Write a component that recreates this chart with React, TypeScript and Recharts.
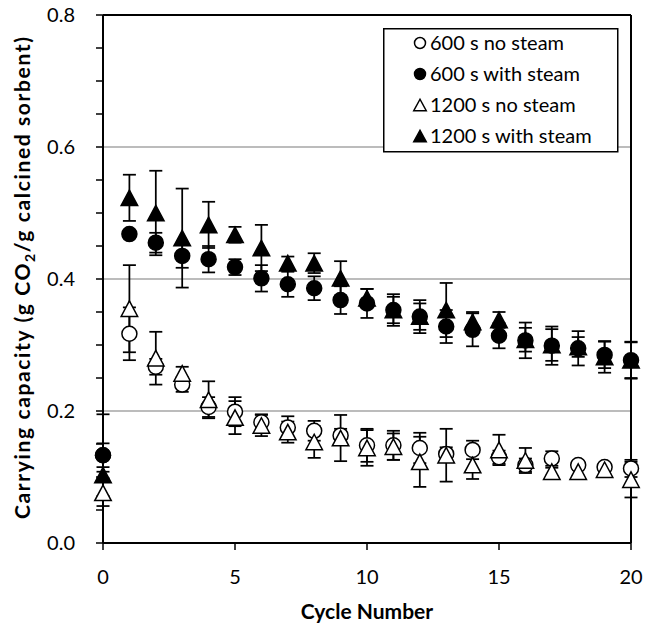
import React from "react";
import {
  ScatterChart,
  Scatter,
  XAxis,
  YAxis,
  ErrorBar,
  ReferenceLine,
  Legend,
  Label,
} from "recharts";

const cycles = [0, 1, 2, 3, 4, 5, 6, 7, 8, 9, 10, 11, 12, 13, 14, 15, 16, 17, 18, 19, 20];

// 600 s, no steam (open circles)
const noSteam600 = [0.133, 0.317, 0.267, 0.24, 0.206, 0.199, 0.183, 0.175, 0.17, 0.163, 0.148, 0.148, 0.144, 0.135, 0.141, 0.13, 0.118, 0.128, 0.118, 0.115, 0.113];
const noSteam600Err = [0.062, 0.04, 0.012, 0.011, 0.015, 0.022, 0.012, 0.017, 0.015, 0.01, 0.025, 0.022, 0.023, 0.01, 0.014, 0.01, 0.01, 0.011, 0.006, 0.006, 0.013];

// 600 s, with steam (filled circles)
const steam600 = [0.133, 0.468, 0.455, 0.435, 0.43, 0.418, 0.401, 0.392, 0.386, 0.368, 0.363, 0.353, 0.343, 0.328, 0.323, 0.314, 0.307, 0.299, 0.295, 0.285, 0.277];
const steam600Err = [0.018, 0.006, 0.015, 0.018, 0.02, 0.012, 0.02, 0.019, 0.018, 0.021, 0.022, 0.024, 0.025, 0.025, 0.025, 0.019, 0.027, 0.029, 0.026, 0.02, 0.027];

// 1200 s, no steam (open triangles)
const noSteam1200 = [0.076, 0.355, 0.28, 0.257, 0.217, 0.19, 0.178, 0.168, 0.153, 0.159, 0.144, 0.146, 0.123, 0.133, 0.118, 0.141, 0.125, 0.108, 0.108, 0.111, 0.096];
const noSteam1200Err = [0.02, 0.066, 0.04, 0.01, 0.028, 0.025, 0.016, 0.016, 0.024, 0.035, 0.027, 0.02, 0.038, 0.04, 0.021, 0.023, 0.019, 0.006, 0.006, 0.006, 0.027];

// 1200 s, with steam (filled triangles)
const steam1200 = [0.103, 0.523, 0.5, 0.462, 0.482, 0.467, 0.447, 0.424, 0.424, 0.401, 0.371, 0.353, 0.343, 0.353, 0.335, 0.338, 0.308, 0.3, 0.297, 0.282, 0.277];
const steam1200Err = [0.005, 0.035, 0.064, 0.075, 0.035, 0.012, 0.035, 0.01, 0.015, 0.026, 0.014, 0.02, 0.02, 0.041, 0.015, 0.012, 0.018, 0.024, 0.015, 0.024, 0.028];

const xTicks = [0, 5, 10, 15, 20];
const yTicks = [0, 0.05, 0.1, 0.15, 0.2, 0.25, 0.3, 0.35, 0.4, 0.45, 0.5, 0.55, 0.6, 0.65, 0.7, 0.75, 0.8];
const yMajor = [0, 0.2, 0.4, 0.6, 0.8];
const gridLines = [0.2, 0.4, 0.6];

const build = (vals: number[], errs: number[]) =>
  cycles.map((c, i) => ({ x: c, y: vals[i], err: errs[i] }));

type Marker = "circle" | "triangle";

function drawMarker(kind: Marker, filled: boolean, cx: number, cy: number, s: number) {
  const fill = filled ? "#000" : "#fff";
  if (kind === "circle") {
    return <circle cx={cx} cy={cy} r={s / 2} fill={fill} stroke="#000" strokeWidth={1.5} />;
  }
  const w = s + 1.5;
  const h = s + 0.5;
  const pts = `${cx},${cy - h / 2} ${cx - w / 2},${cy + h / 2} ${cx + w / 2},${cy + h / 2}`;
  return <polygon points={pts} fill={fill} stroke="#000" strokeWidth={1.5} strokeLinejoin="miter" />;
}

const series = [
  { name: "600 s no steam", kind: "circle" as Marker, filled: false, data: build(noSteam600, noSteam600Err) },
  { name: "600 s with steam", kind: "circle" as Marker, filled: true, data: build(steam600, steam600Err) },
  { name: "1200 s no steam", kind: "triangle" as Marker, filled: false, data: build(noSteam1200, noSteam1200Err) },
  { name: "1200 s with steam", kind: "triangle" as Marker, filled: true, data: build(steam1200, steam1200Err) },
];

const YTick = (props: any) => {
  const { x, y, payload } = props;
  const v = payload.value;
  const major = yMajor.some((m) => Math.abs(m - v) < 1e-6);
  return (
    <g>
      <line x1={x - 7} x2={x} y1={y} y2={y} stroke="#000" strokeWidth={1.5} />
      {major && (
        <text x={x - 28} y={y} dy={7} textAnchor="end" fontSize={20} fill="#000">
          {v.toFixed(1)}
        </text>
      )}
    </g>
  );
};

const XTick = (props: any) => {
  const { x, y, payload } = props;
  return (
    <g>
      <line x1={x} x2={x} y1={y} y2={y + 7} stroke="#000" strokeWidth={1.5} />
      <text x={x} y={y + 41} textAnchor="middle" fontSize={20} fill="#000">
        {payload.value}
      </text>
    </g>
  );
};

const YTitle = () => (
  <text
    transform="translate(30,278) rotate(-90)"
    textAnchor="middle"
    fontSize={21}
    fontWeight="bold"
    fill="#000"
    textLength={482}
    lengthAdjust="spacing"
  >
    Carrying capacity (g CO<tspan dy={5} fontSize={14}>2</tspan>
    <tspan dy={-5}>/g calcined sorbent)</tspan>
  </text>
);

const XTitle = () => (
  <text x={367} y={619} textAnchor="middle" fontSize={21} fontWeight="bold" fill="#000">
    Cycle Number
  </text>
);

const renderLegend = () => (
  <svg width={236} height={125}>
    <rect x={0.75} y={0.75} width={234} height={123} fill="#fff" stroke="#000" strokeWidth={1.5} />
    {series.map((s, i) => (
      <g key={s.name}>
        {drawMarker(s.kind, s.filled, 37, 15 + i * 31, 11)}
        <text x={47} y={15 + i * 31 + 7} fontSize={20} fill="#000">
          {s.name}
        </text>
      </g>
    ))}
  </svg>
);

export default function App() {
  return (
    <div
      style={{
        position: "absolute",
        left: 0,
        top: 0,
        width: 645,
        height: 634,
        background: "#fff",
        fontFamily: "Lato, 'Open Sans', sans-serif",
      }}
    >
      <ScatterChart width={645} height={634} margin={{ top: 15, right: 14, left: 0, bottom: 0 }}>
        {gridLines.map((g) => (
          <ReferenceLine key={g} y={g} stroke="#a6a6a6" strokeWidth={1.5} />
        ))}
        <XAxis
          type="number"
          dataKey="x"
          domain={[0, 20]}
          ticks={xTicks}
          height={91}
          tickSize={0}
          tickMargin={0}
          tickLine={false}
          axisLine={{ stroke: "#000", strokeWidth: 2 }}
          tick={(p: any) => <XTick {...p} />}
          interval={0}
        >
          <Label content={XTitle} />
        </XAxis>
        <YAxis
          type="number"
          dataKey="y"
          domain={[0, 0.8]}
          ticks={yTicks}
          width={103}
          tickSize={0}
          tickMargin={0}
          tickLine={false}
          axisLine={{ stroke: "#000", strokeWidth: 2 }}
          tick={(p: any) => <YTick {...p} />}
          interval={0}
        >
          <Label content={YTitle} />
        </YAxis>
        <ReferenceLine x={20} stroke="#000" strokeWidth={2} />
        <ReferenceLine y={0.8} stroke="#000" strokeWidth={2} />
        {series.map((s) => (
          <Scatter
            key={s.name}
            name={s.name}
            data={s.data}
            isAnimationActive={false}
            shape={(p: any) => drawMarker(s.kind, s.filled, p.cx, p.cy, 15)}
          >
            <ErrorBar dataKey="err" direction="y" width={6.5} stroke="#000" strokeWidth={1.75} />
          </Scatter>
        ))}
        <Legend
          layout="vertical"
          align="center"
          verticalAlign="middle"
          content={renderLegend}
          wrapperStyle={{ left: 383, top: 28, width: 236, height: 125 }}
        />
      </ScatterChart>
    </div>
  );
}
